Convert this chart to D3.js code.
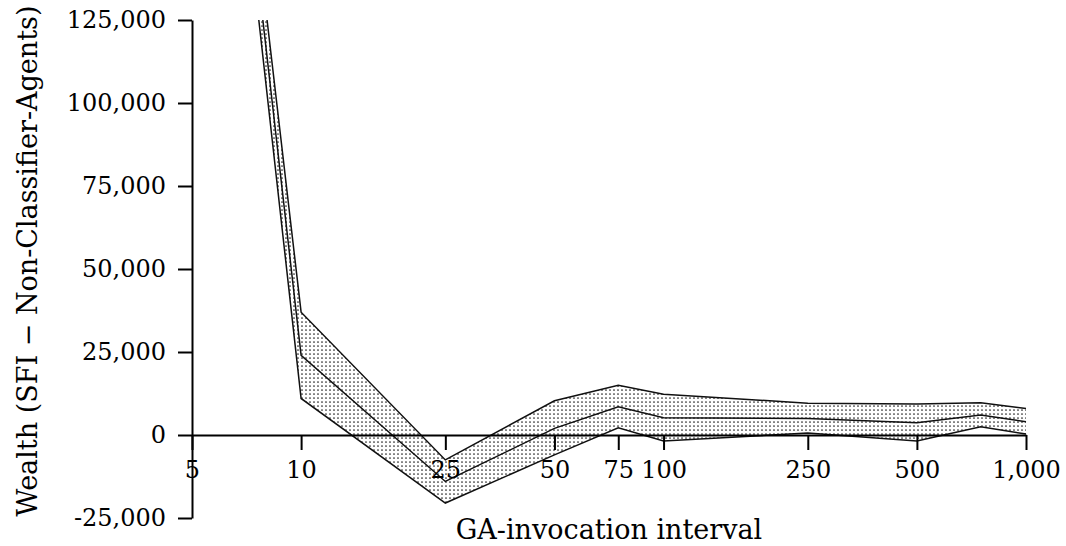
<!DOCTYPE html>
<html>
<head>
<meta charset="utf-8">
<script src="https://cdn.jsdelivr.net/npm/d3@7"></script>
<style>
  body { margin: 0; background: #fff; }
  svg { display: block; }
  text { font-family: "DejaVu Serif", "Liberation Serif", serif; fill: #000; }
</style>
</head>
<body>
<svg width="1066" height="546"></svg>
<script>
// GA-invocation interval values
const intervals = [5, 10, 25, 50, 75, 100, 250, 500, 750, 1000];
// wealth difference (SFI - Non-Classifier-Agents)
const upperBand = [319000, 37000, -7500, 10300, 15000, 12300, 9600, 9300, 9700, 8000];
const meanLine = [312000, 24000, -14000, 2000, 8500, 5200, 5000, 3700, 6000, 4000];
const lowerBand = [305000, 11000, -20500, -6000, 2200, -1800, 600, -1800, 2500, 300];

const xTicks = [5, 10, 25, 50, 75, 100, 250, 500, 1000];
const yTicks = [-25000, 0, 25000, 50000, 75000, 100000, 125000];

const svg = d3.select("svg");

const x = d3.scaleLog().domain([5, 1000]).range([192, 1026]);
const y = d3.scaleLinear().domain([-25000, 125000]).range([518, 20]);

const defs = svg.append("defs");
const pat = defs.append("pattern")
    .attr("id", "dots")
    .attr("patternUnits", "userSpaceOnUse")
    .attr("width", 4)
    .attr("height", 4);
pat.append("rect").attr("width", 4).attr("height", 4).attr("fill", "#fff");
pat.append("circle").attr("cx", 2).attr("cy", 2).attr("r", 0.85).attr("fill", "#222");

defs.append("clipPath").attr("id", "plotclip")
    .append("rect").attr("x", 0).attr("y", 20).attr("width", 1066).attr("height", 526);

const rows = intervals.map((v, i) => ({ x: v, hi: upperBand[i], mid: meanLine[i], lo: lowerBand[i] }));

const plot = svg.append("g").attr("clip-path", "url(#plotclip)");

const area = d3.area()
    .x(d => x(d.x))
    .y0(d => y(d.lo))
    .y1(d => y(d.hi));

plot.append("path")
    .datum(rows)
    .attr("d", area)
    .attr("fill", "url(#dots)");

["hi", "mid", "lo"].forEach(key => {
    plot.append("path")
        .datum(rows)
        .attr("d", d3.line().x(d => x(d.x)).y(d => y(d[key])))
        .attr("fill", "none")
        .attr("stroke", "#111")
        .attr("stroke-width", 1.5)
        .attr("stroke-linejoin", "miter");
});

// axes
const fmt = v => d3.format(",")(v).replace("\u2212", "-");

const yAxis = svg.append("g")
    .attr("transform", "translate(192,0)")
    .call(d3.axisLeft(y).tickValues(yTicks).tickFormat(fmt).tickSize(14).tickSizeOuter(0).tickPadding(12));

const xAxis = svg.append("g")
    .attr("transform", `translate(0,${y(0)})`)
    .call(d3.axisBottom(x).tickValues(xTicks).tickFormat(fmt).tickSize(15).tickSizeOuter(0).tickPadding(11));

[yAxis, xAxis].forEach(g => {
    g.selectAll("path, line").attr("stroke", "#000").attr("stroke-width", 2);
    g.selectAll("text").style("font-size", "24px").style("font-family", "'DejaVu Serif', serif");
});

svg.append("text")
    .attr("x", 609)
    .attr("y", 539)
    .attr("text-anchor", "middle")
    .style("font-size", "27px")
    .text("GA-invocation interval");

svg.append("text")
    .attr("transform", "translate(37,261) rotate(-90)")
    .attr("text-anchor", "middle")
    .style("font-size", "27px")
    .text("Wealth (SFI \u2212 Non-Classifier-Agents)");
</script>
</body>
</html>
